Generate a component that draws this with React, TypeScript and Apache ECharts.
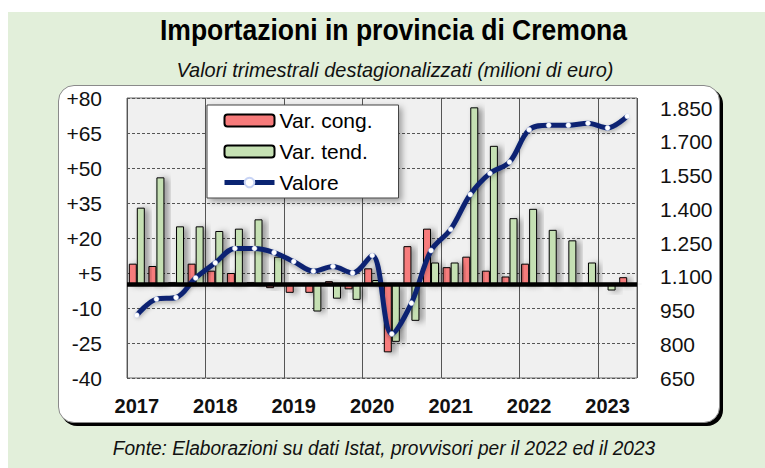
import React, { useEffect, useRef } from "react";
import * as echarts from "echarts";

const categories = [
  "2017 T1", "2017 T2", "2017 T3", "2017 T4",
  "2018 T1", "2018 T2", "2018 T3", "2018 T4",
  "2019 T1", "2019 T2", "2019 T3", "2019 T4",
  "2020 T1", "2020 T2", "2020 T3", "2020 T4",
  "2021 T1", "2021 T2", "2021 T3", "2021 T4",
  "2022 T1", "2022 T2", "2022 T3", "2022 T4",
  "2023 T1", "2023 T2",
];

const varCong = [
  9, 8, 1, 9,
  6, 5, 1, -1.5,
  -3.5, -3.5, 1.5, -2,
  7, -29, 16.5, 24,
  7.5, 12, 6, 3.5,
  9, 0.5, 0.3, 0.3,
  -0.5, 3.2,
];

const varTend = [
  33, 46, 25, 25,
  23, 24, 28, 12,
  -0.5, -11.5, -6, -6.5,
  2, -24.5, -15.5, 9.5,
  9.5, 76, 59.5, 28.5,
  32.5, 23.5, 19, 9.5,
  -2.5, 0.5,
];

const valore = [
  929, 1001, 1008, 1095,
  1162, 1226, 1226, 1208,
  1168, 1125, 1146, 1117,
  1195, 846, 983, 1217,
  1311, 1466, 1560, 1610,
  1754, 1774, 1774, 1783,
  1762, 1814,
];

const legendNames = ["Var. cong.", "Var. tend.", "Valore"];
const titleText = "Importazioni in provincia di Cremona";
const subtitleText = "Valori trimestrali destagionalizzati (milioni di euro)";
const footerText = "Fonte: Elaborazioni su dati Istat, provvisori per il 2022 ed il 2023";

const FONT = '"Liberation Sans", Arial, sans-serif';

export default function App() {
  const ref = useRef<HTMLDivElement>(null);

  useEffect(() => {
    const chart = echarts.init(ref.current!, null, { renderer: "svg" });
    chart.setOption({
      animation: false,
      textStyle: { fontFamily: FONT },
      graphic: [
        {
          type: "text",
          x: 393.5,
          y: 30.5,
          scaleX: 0.915,
          style: {
            text: titleText,
            font: `bold 29px ${FONT}`,
            fill: "#000",
            textAlign: "center",
            textVerticalAlign: "middle",
          },
        },
        {
          type: "text",
          x: 395,
          y: 69,
          scaleX: 0.95,
          style: {
            text: subtitleText,
            font: `italic 21px ${FONT}`,
            fill: "#111",
            textAlign: "center",
            textVerticalAlign: "middle",
          },
        },
        {
          type: "text",
          x: 384,
          y: 447.5,
          scaleX: 0.91,
          style: {
            text: footerText,
            font: `italic 21px ${FONT}`,
            fill: "#111",
            textAlign: "center",
            textVerticalAlign: "middle",
          },
        },
      ],
      legend: {
        data: legendNames,
        orient: "vertical",
        left: 207,
        top: 105,
        itemWidth: 50,
        itemHeight: 12,
        itemGap: 10,
        padding: [5, 26, 5, 15],
        backgroundColor: "#fff",
        borderColor: "#444",
        borderWidth: 1,
        shadowBlur: 6,
        shadowColor: "rgba(0,0,0,0.35)",
        shadowOffsetX: 3,
        shadowOffsetY: 3,
        lineStyle: { width: 5 },
        textStyle: { fontSize: 21, color: "#000", fontFamily: FONT },
      },
      grid: {
        left: 127,
        right: 128,
        top: 98,
        bottom: 90,
        show: true,
        backgroundColor: "#f0f0f0",
        borderColor: "#6a6a6a",
        borderWidth: 1,
      },
      xAxis: {
        type: "category",
        data: categories,
        boundaryGap: true,
        axisLine: { show: false },
        axisTick: { show: false },
        axisLabel: {
          interval: (i: number) => i % 4 === 0,
          formatter: (v: string) => v.slice(0, 4),
          fontSize: 20,
          fontWeight: "bold",
          color: "#111",
          margin: 18,
          fontFamily: FONT,
        },
        splitLine: {
          show: true,
          interval: (i: number) => i % 4 === 0,
          lineStyle: { color: "#555", width: 1, type: "solid" },
        },
      },
      yAxis: [
        {
          type: "value",
          min: -40,
          max: 80,
          interval: 15,
          axisLine: { show: false },
          axisTick: { show: false },
          axisLabel: {
            formatter: (v: number) => (v > 0 ? `+${v}` : `${v}`),
            fontSize: 21,
            color: "#111",
            margin: 25,
            fontFamily: FONT,
          },
          splitLine: {
            show: true,
            lineStyle: { color: "#555", width: 1, type: [3, 2] },
          },
        },
        {
          type: "value",
          min: 650,
          max: 1895,
          interval: 150,
          position: "right",
          axisLine: { show: false },
          axisTick: { show: false },
          splitLine: { show: false },
          axisLabel: {
            showMaxLabel: false,
            formatter: (v: number) =>
              v >= 1000
                ? `${Math.floor(v / 1000)}.${String(v % 1000).padStart(3, "0")}`
                : `${v}`,
            fontSize: 21,
            color: "#111",
            margin: 23,
            fontFamily: FONT,
          },
        },
      ],
      series: [
        {
          name: "Var. cong.",
          type: "bar",
          data: varCong,
          yAxisIndex: 0,
          barWidth: 8,
          barGap: "0%",
          z: 2,
          itemStyle: {
            color: "#f77b7b",
            borderColor: "#000",
            borderWidth: 1,
            shadowBlur: 6,
            shadowColor: "rgba(0,0,0,0.4)",
            shadowOffsetX: 4,
            shadowOffsetY: 1,
          },
        },
        {
          name: "Var. tend.",
          type: "bar",
          data: varTend,
          yAxisIndex: 0,
          barWidth: 8,
          barGap: "0%",
          z: 2,
          itemStyle: {
            color: "#c5e0b3",
            borderColor: "#000",
            borderWidth: 1,
            shadowBlur: 6,
            shadowColor: "rgba(0,0,0,0.4)",
            shadowOffsetX: 4,
            shadowOffsetY: 1,
          },
        },
        {
          name: "zero",
          type: "line",
          data: [],
          yAxisIndex: 0,
          z: 3,
          markLine: {
            silent: true,
            symbol: ["none", "none"],
            label: { show: false },
            lineStyle: { color: "#000", width: 4.5, type: "solid" },
            data: [{ yAxis: 0 }],
          },
        },
        {
          name: "Valore",
          type: "line",
          data: valore,
          yAxisIndex: 1,
          z: 4,
          smooth: 0.35,
          symbol: "circle",
          symbolSize: 5,
          showSymbol: true,
          itemStyle: { color: "#ffffff", borderColor: "#c8d4f5", borderWidth: 0.5 },
          lineStyle: {
            color: "#0a2472",
            width: 5,
            shadowBlur: 4,
            shadowColor: "rgba(0,0,0,0.3)",
            shadowOffsetY: 2,
          },
        },
      ],
    });
    return () => chart.dispose();
  }, []);

  return (
    <div
      style={{
        position: "absolute",
        left: 0,
        top: 0,
        width: 765,
        height: 468,
        background: "#fff",
        overflow: "hidden",
      }}
    >
      <div
        style={{
          position: "absolute",
          left: 8,
          top: 12,
          width: 757,
          height: 456,
          background: "#e2efda",
        }}
      />
      <div
        style={{
          position: "absolute",
          left: 58,
          top: 85,
          width: 662,
          height: 338,
          background: "#fff",
          border: "1px solid #8a8a8a",
          borderRadius: 16,
          boxShadow: "3px 3px 0 #000",
          boxSizing: "border-box",
        }}
      />
      <div
        ref={ref}
        style={{ position: "absolute", left: 0, top: 0, width: 765, height: 468 }}
      />
    </div>
  );
}
